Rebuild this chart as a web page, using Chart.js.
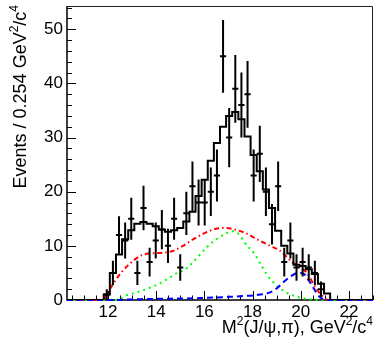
<!DOCTYPE html>
<html>
<head>
<meta charset="utf-8">
<script src="https://cdn.jsdelivr.net/npm/chart.js@4/dist/chart.umd.min.js"></script>
<style>
  html, body { margin: 0; padding: 0; background: #fff; }
  canvas { display: block; }
</style>
</head>
<body>
<canvas id="c" width="375" height="342"></canvas>
<script>
// Binning of the M^2(J/psi,pi) distribution
const binLow = 10.3;
const binWidth = 0.254;
const xScaleMin = 10.3;
const xScaleMax = 23.0;
const yScaleMax = 54.3;

// Observed events per bin
const eventCounts = [
  0, 0, 0, 0, 0, 0, 1, 5, 12, 11,
  15, 5, 17, 7, 11, 13, 10, 15, 6, 16,
  21, 18, 18, 20, 23, 45, 30, 39, 36, 38,
  23, 27, 20, 14, 21, 7, 11, 6, 7, 6,
  5, 2, 0, 0, 0, 0, 0, 0, 0, 0
];

// Total fit, per bin
const fitTotal = [
  0, 0, 0, 0, 0, 0, 1.0, 5.0, 8.4, 11.2,
  12.9, 14.1, 14.4, 14.1, 13.6, 13.0, 12.6, 12.9, 13.3, 14.5,
  16.3, 19.2, 22.2, 25.7, 29.0, 32.0, 34.0, 34.7, 33.4, 30.2,
  26.8, 23.8, 20.4, 17.0, 12.8, 10.0, 8.6, 6.5, 6.3, 5.7,
  4.8, 3.0, 1.2, 0, 0, 0, 0, 0, 0, 0
];

// Fit components
const redX = [10.3, 11.84, 11.92, 12.08, 12.29, 12.54, 12.83, 13.12, 13.41, 13.75, 14.2, 14.66, 15.07, 15.53, 16.03, 16.44, 16.86, 17.27, 17.69, 18.23, 18.73, 19.14, 19.64, 19.97, 20.26, 20.51, 20.76, 21.01, 21.12, 23.0];
const redY = [0, 0, 1.0, 2.0, 3.5, 5.0, 6.4, 7.5, 8.3, 8.6, 8.7, 9.0, 9.9, 11.2, 12.4, 13.1, 13.3, 13.0, 12.4, 11.1, 10.0, 9.1, 7.0, 6.0, 5.0, 3.1, 1.4, 0.3, 0, 0];

const greenX = [10.3, 12.29, 12.79, 13.33, 13.87, 14.45, 14.87, 15.28, 15.66, 16.07, 16.49, 16.86, 17.15, 17.4, 17.69, 18.1, 18.39, 18.64, 19.02, 19.43, 19.85, 20.26, 20.8, 23.0];
const greenY = [0, 0, 0.9, 1.6, 2.5, 3.8, 5.0, 5.9, 7.6, 9.6, 11.2, 12.2, 12.7, 12.3, 10.5, 8.4, 6.2, 4.4, 2.6, 1.3, 0.6, 0.2, 0, 0];

const blueX = [10.3, 12.08, 13.33, 14.58, 15.82, 16.86, 17.69, 18.31, 18.73, 19.02, 19.31, 19.6, 19.89, 20.14, 20.35, 20.56, 20.76, 20.97, 21.22, 23.0];
const blueY = [0, 0, 0.15, 0.25, 0.35, 0.55, 0.75, 1.0, 1.4, 2.2, 3.4, 4.4, 5.0, 4.8, 3.5, 2.0, 0.7, 0.1, 0, 0];

// Axis tick labels
const xTickValues = [12, 14, 16, 18, 20, 22];
const yTickValues = [0, 10, 20, 30, 40, 50];

const FONT = '"Liberation Sans", Arial, Helvetica, sans-serif';

const binCenters = eventCounts.map((_, i) => binLow + binWidth * (i + 0.5));
const fitPoints = [{ x: xScaleMin, y: fitTotal[0] }]
  .concat(binCenters.map((c, i) => ({ x: c, y: fitTotal[i] })))
  .concat([{ x: xScaleMax, y: fitTotal[fitTotal.length - 1] }]);
const toXY = (xs, ys) => xs.map((x, i) => ({ x: x, y: ys[i] }));

// Draws text with superscript pieces; parts = [[text, isSup], ...]
function drawRich(ctx, parts, x, y, size, align) {
  const supSize = Math.round(size * 0.68);
  let total = 0;
  parts.forEach(([t, sup]) => {
    ctx.font = (sup ? supSize : size) + 'px ' + FONT;
    total += ctx.measureText(t).width;
  });
  let cx = align === 'right' ? x - total : x;
  ctx.textAlign = 'left';
  ctx.textBaseline = 'alphabetic';
  parts.forEach(([t, sup]) => {
    ctx.font = (sup ? supSize : size) + 'px ' + FONT;
    ctx.fillText(t, cx, sup ? y - size * 0.42 : y);
    cx += ctx.measureText(t).width;
  });
}

const rootStyle = {
  id: 'rootStyle',
  beforeDatasetsDraw(chart) {
    const { ctx, chartArea: a, scales: { x, y } } = chart;
    ctx.save();
    // frame: top and right edges
    ctx.strokeStyle = '#222';
    ctx.lineWidth = 1;
    ctx.beginPath();
    ctx.moveTo(a.left, a.top + 0.5);
    ctx.lineTo(a.right - 0.5, a.top + 0.5);
    ctx.lineTo(a.right - 0.5, a.bottom);
    ctx.stroke();
    // axes
    ctx.strokeStyle = '#000';
    ctx.lineWidth = 1.5;
    ctx.beginPath();
    ctx.moveTo(a.left, a.top);
    ctx.lineTo(a.left, a.bottom);
    ctx.lineTo(a.right, a.bottom);
    ctx.stroke();
    // y ticks (inside)
    ctx.lineWidth = 1;
    ctx.beginPath();
    for (let i = 0; i * 2 <= yScaleMax; i++) {
      const v = i * 2;
      const py = Math.round(y.getPixelForValue(v)) + 0.5;
      const len = v % 10 === 0 ? 9 : 5;
      ctx.moveTo(a.left, py);
      ctx.lineTo(a.left + len, py);
    }
    // x ticks (inside)
    for (let i = Math.ceil(xScaleMin * 2); i * 0.5 <= xScaleMax + 1e-9; i++) {
      const v = i * 0.5;
      const px = Math.round(x.getPixelForValue(v)) + 0.5;
      const len = (i % 4 === 0) ? 9 : 4.5;
      ctx.moveTo(px, a.bottom);
      ctx.lineTo(px, a.bottom - len);
    }
    ctx.stroke();
    ctx.restore();
  },
  afterDatasetsDraw(chart) {
    const { ctx, scales: { x, y } } = chart;
    ctx.save();
    ctx.strokeStyle = '#000';
    ctx.lineWidth = 2;
    ctx.beginPath();
    eventCounts.forEach((n, i) => {
      if (n <= 0) return;
      const c = binCenters[i];
      const err = Math.sqrt(n);
      const px = x.getPixelForValue(c);
      ctx.moveTo(px, y.getPixelForValue(Math.min(n + err, yScaleMax)));
      ctx.lineTo(px, y.getPixelForValue(Math.max(n - err, 0)));
      const py = y.getPixelForValue(n);
      ctx.moveTo(x.getPixelForValue(c - binWidth / 2), py);
      ctx.lineTo(x.getPixelForValue(c + binWidth / 2), py);
    });
    ctx.stroke();
    ctx.restore();
  },
  afterDraw(chart) {
    const { ctx, chartArea: a } = chart;
    ctx.save();
    ctx.fillStyle = '#000';
    // x axis title
    drawRich(ctx, [['M', false], ['2', true], ['(J/\u03C8,\u03C0), GeV', false], ['2', true], ['/c', false], ['4', true]],
      a.right, 333, 18, 'right');
    // y axis title
    ctx.translate(26, a.top - 1);
    ctx.rotate(-Math.PI / 2);
    drawRich(ctx, [['Events / 0.254 GeV', false], ['2', true], ['/c', false], ['4', true]], 0, 0, 18, 'right');
    ctx.restore();
  }
};

const curve = (data, color, dash, order) => ({
  data: data,
  borderColor: color,
  borderDash: dash,
  borderWidth: 2,
  pointRadius: 0,
  fill: false,
  cubicInterpolationMode: 'monotone',
  clip: false,
  order: order
});

new Chart(document.getElementById('c'), {
  type: 'line',
  data: {
    datasets: [
      {
        data: fitPoints,
        stepped: 'middle',
        borderColor: '#000',
        borderWidth: 2,
        pointRadius: 0,
        fill: false,
        tension: 0,
        order: 1
      },
      curve(toXY(blueX, blueY), '#0000ff', [6, 4], 2),
      curve(toXY(greenX, greenY), '#00ff00', [2, 4], 3),
      curve(toXY(redX, redY), '#ff0000', [5, 3, 1.5, 3], 4)
    ]
  },
  options: {
    responsive: false,
    animation: false,
    devicePixelRatio: 1,
    layout: { padding: { top: 6, right: 2, left: 0, bottom: 0 } },
    plugins: { legend: { display: false }, tooltip: { enabled: false } },
    scales: {
      x: {
        type: 'linear',
        min: xScaleMin,
        max: xScaleMax,
        offset: false,
        grid: { display: false, drawTicks: false },
        border: { display: false },
        ticks: { font: { family: FONT, size: 17 }, color: '#000', padding: 2, maxRotation: 0, autoSkip: false },
        afterBuildTicks: s => { s.ticks = xTickValues.map(v => ({ value: v })); },
        afterFit: s => { s.height = 42; s.paddingLeft = 0; s.paddingRight = 0; }
      },
      y: {
        type: 'linear',
        min: 0,
        max: yScaleMax,
        grid: { display: false, drawTicks: false },
        border: { display: false },
        ticks: { font: { family: FONT, size: 17 }, color: '#000', padding: 4, autoSkip: false },
        afterBuildTicks: s => { s.ticks = yTickValues.map(v => ({ value: v })); },
        afterFit: s => { s.width = 67; s.paddingTop = 0; s.paddingBottom = 0; }
      }
    }
  },
  plugins: [rootStyle]
});
</script>
</body>
</html>
